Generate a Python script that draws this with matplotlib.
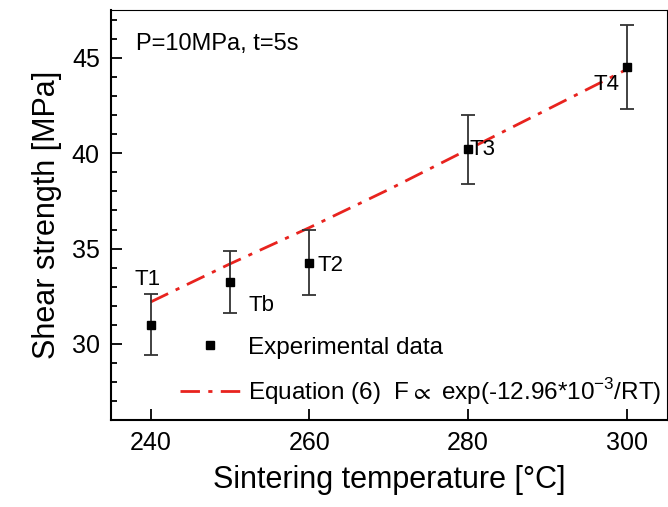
import matplotlib
matplotlib.use("Agg")
import matplotlib.pyplot as plt
from matplotlib.lines import Line2D

plt.rcParams['font.family'] = ['Liberation Sans', 'DejaVu Sans']
plt.rcParams['mathtext.fontset'] = 'custom'
plt.rcParams['mathtext.rm'] = 'Liberation Sans'
plt.rcParams['mathtext.fallback'] = 'stixsans'

# experimental points
temps = [240, 250, 260, 280, 300]
strength = [31.0, 33.25, 34.25, 40.2, 44.5]
err = [1.6, 1.65, 1.7, 1.8, 2.2]
names = ["T1", "Tb", "T2", "T3", "T4"]

# equation (6) curve
fit_t = [240, 250, 260, 270, 280, 290, 300]
fit_s = [32.2, 34.2, 36.1, 38.1, 40.2, 42.3, 44.4]

# label spots for point names
name_x = [239.6, 254.0, 262.6, 281.8, 297.4]
name_y = [33.4, 32.0, 34.1, 40.2, 43.6]

fig = plt.figure(figsize=(6.68, 5.07), dpi=100)
ax = fig.add_axes([0.166, 0.171, 0.832, 0.809])

ax.plot(fit_t, fit_s, color='#e8231e', lw=2, dashes=(7, 3, 1.5, 3), zorder=2)
ax.errorbar(temps, strength, yerr=err, fmt='s', color='black', ms=6,
            ecolor='#333333', elinewidth=1.3, capsize=5, capthick=1.3, zorder=3)

for i in range(len(names)):
    ax.text(name_x[i], name_y[i], names[i], fontsize=16, ha='center', va='center')

ax.text(238.2, 45.75, "P=10MPa, t=5s", fontsize=17, va='center')

ax.set_xlim(235, 305)
ax.set_ylim(26, 47.5)
ax.set_xticks([240, 260, 280, 300])
ax.set_yticks([30, 35, 40, 45])
ax.set_yticks(range(27, 48), minor=True)
ax.tick_params(axis='both', which='major', direction='in', length=8, width=1.3,
               labelsize=18, top=False, right=False, pad=8)
ax.tick_params(axis='y', which='minor', direction='in', length=4, width=1.3)
for s in ax.spines.values():
    s.set_linewidth(1.5)
ax.spines['right'].set_linewidth(0.8)
ax.spines['top'].set_linewidth(0.8)

ax.set_xlabel("Sintering temperature [\u00b0C]", fontsize=22, labelpad=7)
ax.set_ylabel("Shear strength [MPa]", fontsize=22, labelpad=7)

leg_handles = [
    Line2D([], [], ls='none', marker='s', color='black', ms=6),
    Line2D([], [], color='#e8231e', lw=2, dashes=(7, 3, 1.5, 3)),
]
leg_labels = ["Experimental data", "Equation (6)  F$\\propto$ exp(-12.96*10$^{-3}$/RT)"]
ax.legend(leg_handles, leg_labels, loc='lower left', bbox_to_anchor=(0.085, -0.02),
          frameon=False, fontsize=17.5, handlelength=2.5, handletextpad=0.3,
          labelspacing=0.7)

fig.savefig("out.png", dpi=100)
